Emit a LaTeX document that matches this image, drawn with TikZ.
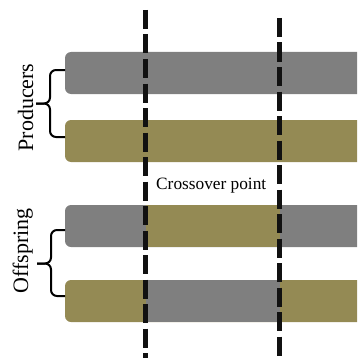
\documentclass[tikz,border=0pt]{standalone}
\usepackage{fontspec}
\setmainfont{Liberation Serif}
\definecolor{bargrey}{HTML}{7F7F7F}
\definecolor{barolive}{HTML}{948A54}
\definecolor{dashcol}{HTML}{111111}
\begin{document}
\begin{tikzpicture}[x=1pt,y=-1pt,
  barshape/.style={rounded corners=6pt},
  cutline/.style={dashcol, line width=5pt, dash pattern=on 19pt off 5.5pt},
  bracestyle/.style={black, line width=2pt, rounded corners=6pt},
  grouplabel/.style={rotate=90, anchor=base, inner sep=0pt, font=\fontsize{22}{26}\selectfont},
  cplabel/.style={anchor=base west, inner sep=0pt, font=\fontsize{17.3}{20}\selectfont}]
\useasboundingbox (0,0) rectangle (357,361);
\clip (0,0) rectangle (357,361);
% producers
\fill[bargrey, barshape] (65,52) rectangle (380,94);
\fill[barolive, barshape] (65,120) rectangle (380,162);
% offspring
\fill[bargrey, barshape] (65,205) rectangle (380,247);
\fill[barolive] (145.5,205) rectangle (279.5,247);
\fill[barolive, barshape] (65,280) rectangle (380,322);
\fill[bargrey] (145.5,280) rectangle (279.5,322);
% braces
\draw[bracestyle] (65,70) -- (50,70) -- (50,103.5) -- (36,103.5);
\draw[bracestyle] (36,103.5) -- (50,103.5) -- (50,137) -- (65,137);
\draw[bracestyle] (65,230) -- (51,230) -- (51,263.5) -- (37,263.5);
\draw[bracestyle] (37,263.5) -- (51,263.5) -- (51,296) -- (65,296);
% labels
\node[grouplabel] (prod) at (33,107.5) {Producers};
\node[grouplabel] (off) at (28,251) {Offspring};
\node[cplabel] (cp) at (156,189) {Crossover point};
% crossover lines
\coordinate (l1top) at (145.5,10);
\coordinate (l1bot) at (145.5,358);
\coordinate (l2top) at (279.5,18);
\coordinate (l2bot) at (279.5,366);
\draw[cutline] (l1top) -- (l1bot);
\draw[cutline] (l2top) -- (l2bot);
\end{tikzpicture}
\end{document}
